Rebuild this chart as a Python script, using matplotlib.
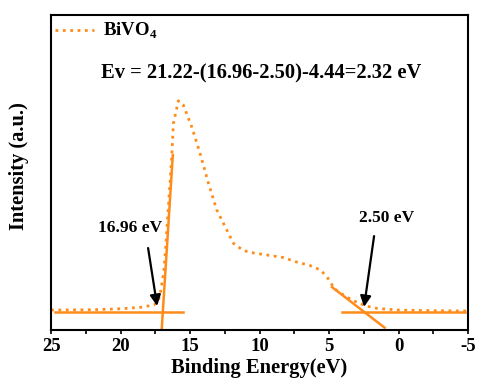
import matplotlib
matplotlib.use("Agg")
import matplotlib.pyplot as plt
import numpy as np

plt.rcParams['font.family'] = ['Liberation Serif', 'DejaVu Serif']
plt.rcParams['font.weight'] = 'bold'
plt.rcParams['axes.unicode_minus'] = False
plt.rcParams['mathtext.fontset'] = 'custom'
plt.rcParams['mathtext.rm'] = 'Liberation Serif:bold'
plt.rcParams['mathtext.bf'] = 'Liberation Serif:bold'

# UPS spectrum of BiVO4 (binding energy in eV, intensity in a.u.)
energy = [25.0, 22.0, 20.0, 18.5, 18.0, 17.6, 17.3, 17.14, 16.9, 16.8, 16.56,
          16.32, 16.2, 15.84, 15.48, 14.88, 14.28, 13.68, 13.08, 12.48, 11.88,
          11.16, 10.5, 9.48, 8.3, 7.36, 6.4, 5.6, 5.1, 4.6, 4.0, 3.36, 2.36,
          1.5, 0.0, -2.5, -5.0]
intensity = [0.063, 0.064, 0.067, 0.072, 0.076, 0.079, 0.090, 0.117, 0.181,
             0.233, 0.391, 0.550, 0.656, 0.728, 0.714, 0.645, 0.561, 0.466,
             0.381, 0.328, 0.275, 0.252, 0.245, 0.238, 0.230, 0.216, 0.205,
             0.190, 0.165, 0.130, 0.112, 0.095, 0.076, 0.068, 0.063, 0.061,
             0.060]

# Linear extrapolation lines: cutoff edge and valence band edge
cutoff_edge = 16.96
vb_edge = 2.50
baseline = 0.058
cutoff_top = (16.24, 0.556)
vb_top = (4.79, 0.136)

orange = '#FF8C1A'

fig = plt.figure(figsize=(4.82, 3.89), dpi=100)
ax = fig.add_axes([0.106, 0.152, 0.865, 0.809])

ax.plot(energy, intensity, linestyle=':', color=orange, lw=2.0, label='BiVO$_4$')

# baselines
ax.plot([24.7, 15.5], [baseline, baseline], color=orange, lw=1.8)
ax.plot([4.07, -4.8], [baseline, baseline], color=orange, lw=1.8)

# steep cutoff fit line through (16.96, baseline)
s1 = (cutoff_top[1] - baseline) / (cutoff_top[0] - cutoff_edge)
y_lo = 0.0
x_lo = cutoff_edge + (y_lo - baseline) / s1
ax.plot([x_lo, cutoff_top[0]], [y_lo, cutoff_top[1]], color=orange, lw=1.8)

# valence band fit line through (2.50, baseline)
s2 = (vb_top[1] - baseline) / (vb_top[0] - vb_edge)
y_end = 0.007
x_end = vb_edge + (y_end - baseline) / s2
ax.plot([vb_top[0], x_end], [vb_top[1], y_end], color=orange, lw=1.8)

# annotations: arrows and their labels
arrow_kw = dict(arrowstyle='-|>', color='black', lw=1.6,
                mutation_scale=16, shrinkA=0, shrinkB=0)
ax.annotate('', xy=(17.37, 0.076), xytext=(18.02, 0.26), arrowprops=arrow_kw)
ax.annotate('', xy=(2.48, 0.073), xytext=(1.76, 0.298), arrowprops=arrow_kw)
ax.text(19.3, 0.325, f'{cutoff_edge:.2f} eV', ha='center', va='center',
        fontsize=12.5, fontweight='bold')
ax.text(0.88, 0.356, f'{vb_edge:.2f} eV', ha='center', va='center',
        fontsize=12.5, fontweight='bold')

ax.text(0.503, 0.816, 'Ev = 21.22-(16.96-2.50)-4.44=2.32 eV',
        transform=ax.transAxes, ha='center', va='center',
        fontsize=14.8, fontweight='bold')

ax.set_xlim(25, -5)
ax.set_ylim(0, 1)
ax.set_xticks([25, 20, 15, 10, 5, 0, -5])
ax.set_xticks(np.arange(-5, 25.1, 2.5), minor=True)
ax.tick_params(axis='x', which='both', direction='out', length=3, width=1.2,
               labelsize=13.5, pad=3)
ax.set_yticks([])
for lbl in ax.get_xticklabels():
    lbl.set_fontweight('bold')
for sp in ax.spines.values():
    sp.set_linewidth(1.5)

ax.set_xlabel('Binding Energy(eV)', fontsize=14.8, fontweight='bold', labelpad=2)
ax.set_ylabel('Intensity (a.u.)', fontsize=14.8, fontweight='bold')
ax.yaxis.set_label_coords(-0.053, 0.52)

leg = ax.legend(loc='upper left', bbox_to_anchor=(0.0, 0.994), frameon=False,
                handlelength=2.05, borderaxespad=0.0, borderpad=0.22,
                handletextpad=0.5, prop={'weight': 'bold', 'size': 13.5})

fig.savefig('out.png', dpi=100)
